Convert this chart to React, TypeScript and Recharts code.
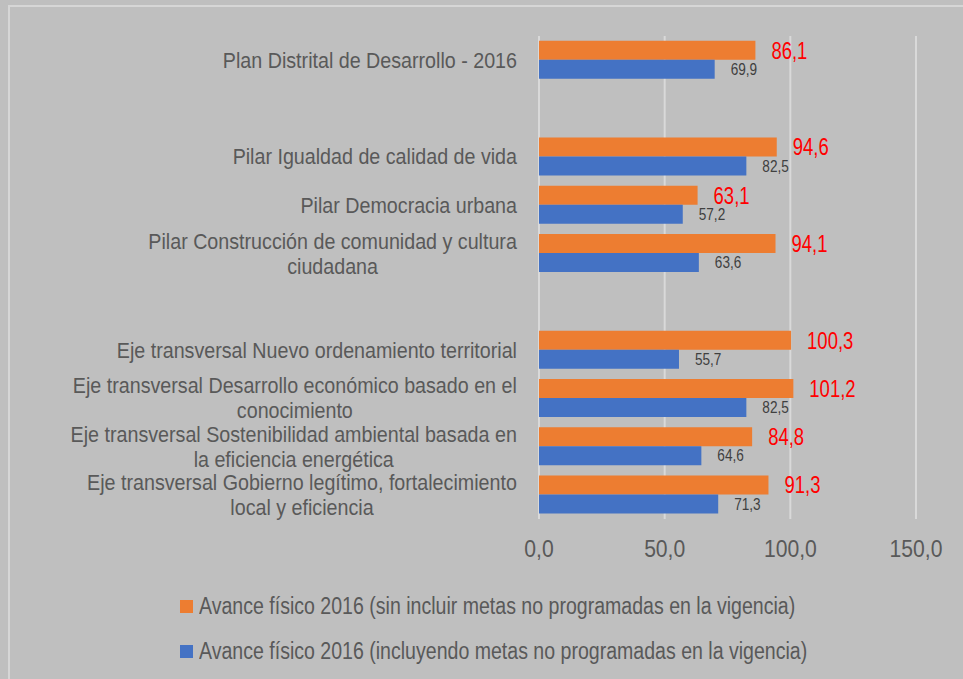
import React from 'react';
import { BarChart, Bar, XAxis, YAxis, CartesianGrid, Legend, LabelList } from 'recharts';

const categories: string[] = [
  'Plan Distrital de Desarrollo - 2016',
  ' ',
  'Pilar Igualdad de calidad de vida',
  'Pilar Democracia urbana',
  'Pilar Construcción de comunidad y cultura\nciudadana',
  '  ',
  'Eje transversal Nuevo ordenamiento territorial',
  'Eje transversal Desarrollo económico basado en el\nconocimiento',
  'Eje transversal Sostenibilidad ambiental basada en\nla eficiencia energética',
  'Eje transversal Gobierno legítimo, fortalecimiento\nlocal y eficiencia',
];
const sinIncluir: (number | null)[] = [86.1, null, 94.6, 63.1, 94.1, null, 100.3, 101.2, 84.8, 91.3];
const incluyendo: (number | null)[] = [69.9, null, 82.5, 57.2, 63.6, null, 55.7, 82.5, 64.6, 71.3];
const seriesNames = [
  'Avance físico 2016 (sin incluir metas no programadas en la vigencia)',
  'Avance físico 2016 (incluyendo metas no programadas en la vigencia)',
];
const xTicks = [0, 50, 100, 150];

const data = categories.map((c, i) => ({ name: c, a: sinIncluir[i], b: incluyendo[i] }));

const FONT = '"Liberation Sans", Arial, sans-serif';
const TEXT = '#595959';

const fmt = (v: any) => (v === null || v === undefined ? '' : Number(v).toFixed(1).replace('.', ','));

let ctx: CanvasRenderingContext2D | null = null;
const measure = (s: string, size: number) => {
  if (!ctx) ctx = document.createElement('canvas').getContext('2d');
  if (!ctx) return s.length * size * 0.5;
  ctx.font = `${size}px ${FONT}`;
  return ctx.measureText(s).width;
};

const YTick = (props: any) => {
  const { x, y, payload } = props;
  const text = String(payload.value || '').trim();
  if (!text) return null;
  const lines = text.split('\n');
  const size = 22;
  const s = 0.895;
  if (lines.length === 1) {
    return (
      <g transform={`translate(${x},${y}) scale(${s},1)`}>
        <text x={0} y={0} dy="0.35em" textAnchor="end" fontSize={size} fontFamily={FONT} fill={TEXT}>
          {text}
        </text>
      </g>
    );
  }
  const maxW = Math.max(...lines.map((l) => measure(l, size)));
  const cx = -maxW / 2;
  const lh = 25;
  const startY = -((lines.length - 1) * lh) / 2;
  return (
    <g transform={`translate(${x},${y}) scale(${s},1)`}>
      <text textAnchor="middle" fontSize={size} fontFamily={FONT} fill={TEXT}>
        {lines.map((l, i) => (
          <tspan key={i} x={cx} y={startY + i * lh} dy="0.35em">
            {l}
          </tspan>
        ))}
      </text>
    </g>
  );
};

const XTick = (props: any) => {
  const { x, y, payload } = props;
  return (
    <g transform={`translate(${x},${y + 38}) scale(0.88,1)`}>
      <text x={0} y={0} textAnchor="middle" fontSize={24} fontFamily={FONT} fill={TEXT}>
        {fmt(payload.value)}
      </text>
    </g>
  );
};

const makeLabel = (color: string, size: number, s: number) => (props: any) => {
  const { x, y, width, height, value } = props;
  if (value === null || value === undefined) return null;
  return (
    <g transform={`translate(${x + width + 16},${y + height / 2}) scale(${s},1)`}>
      <text x={0} y={0} dy="0.35em" textAnchor="start" fontSize={size} fontFamily={FONT} fill={color}>
        {fmt(value)}
      </text>
    </g>
  );
};

const LegendContent = (props: any) => {
  const { payload } = props;
  const items = seriesNames
    .map((n) => (payload || []).find((p: any) => p.value === n))
    .filter(Boolean);
  return (
    <div style={{ fontFamily: FONT, fontSize: 23, color: TEXT }}>
      {items.map((p: any, i: number) => (
        <div key={i} style={{ display: 'flex', alignItems: 'center', height: 45, whiteSpace: 'nowrap' }}>
          <span style={{ display: 'inline-block', width: 13, height: 13, background: p.color, marginRight: 6 }} />
          <span style={{ display: 'inline-block', transform: 'scaleX(0.85)', transformOrigin: 'left center' }}>
            {p.value}
          </span>
        </div>
      ))}
    </div>
  );
};

export default function App() {
  return (
    <div
      style={{
        position: 'absolute',
        left: 0,
        top: 0,
        width: 963,
        height: 679,
        background: '#bfbfbf',
        overflow: 'hidden',
      }}
    >
      <div
        style={{
          position: 'absolute',
          left: 8,
          top: 5,
          width: 1200,
          height: 900,
          border: '2px solid #d6d6d6',
        }}
      />
      <div style={{ position: 'absolute', left: 0, top: 0 }}>
        <BarChart
          width={963}
          height={679}
          data={data}
          layout="vertical"
          margin={{ top: 36, right: 47, bottom: 120, left: 0 }}
          barCategoryGap="10%"
          barGap={0}
        >
          <CartesianGrid horizontal={false} stroke="#d9d9d9" strokeWidth={2} />
          <XAxis
            type="number"
            domain={[0, 150]}
            ticks={xTicks}
            axisLine={false}
            tickLine={false}
            tickSize={0}
            tickMargin={0}
            height={40}
            tick={<XTick />}
            interval={0}
          />
          <YAxis
            type="category"
            dataKey="name"
            width={539}
            axisLine={false}
            tickLine={false}
            tickSize={0}
            tickMargin={22}
            tick={<YTick />}
            interval={0}
          />
          <Bar dataKey="a" name={seriesNames[0]} fill="#ED7D31" isAnimationActive={false}>
            <LabelList dataKey="a" content={makeLabel('#FF0000', 24, 0.77)} />
          </Bar>
          <Bar dataKey="b" name={seriesNames[1]} fill="#4472C4" isAnimationActive={false}>
            <LabelList dataKey="b" content={makeLabel('#404040', 16, 0.85)} />
          </Bar>
          <Legend
            layout="vertical"
            align="center"
            verticalAlign="middle"
            content={<LegendContent />}
            wrapperStyle={{ position: 'absolute', top: 584, left: 180, width: 'auto', height: 'auto' }}
          />
        </BarChart>
      </div>
    </div>
  );
}
